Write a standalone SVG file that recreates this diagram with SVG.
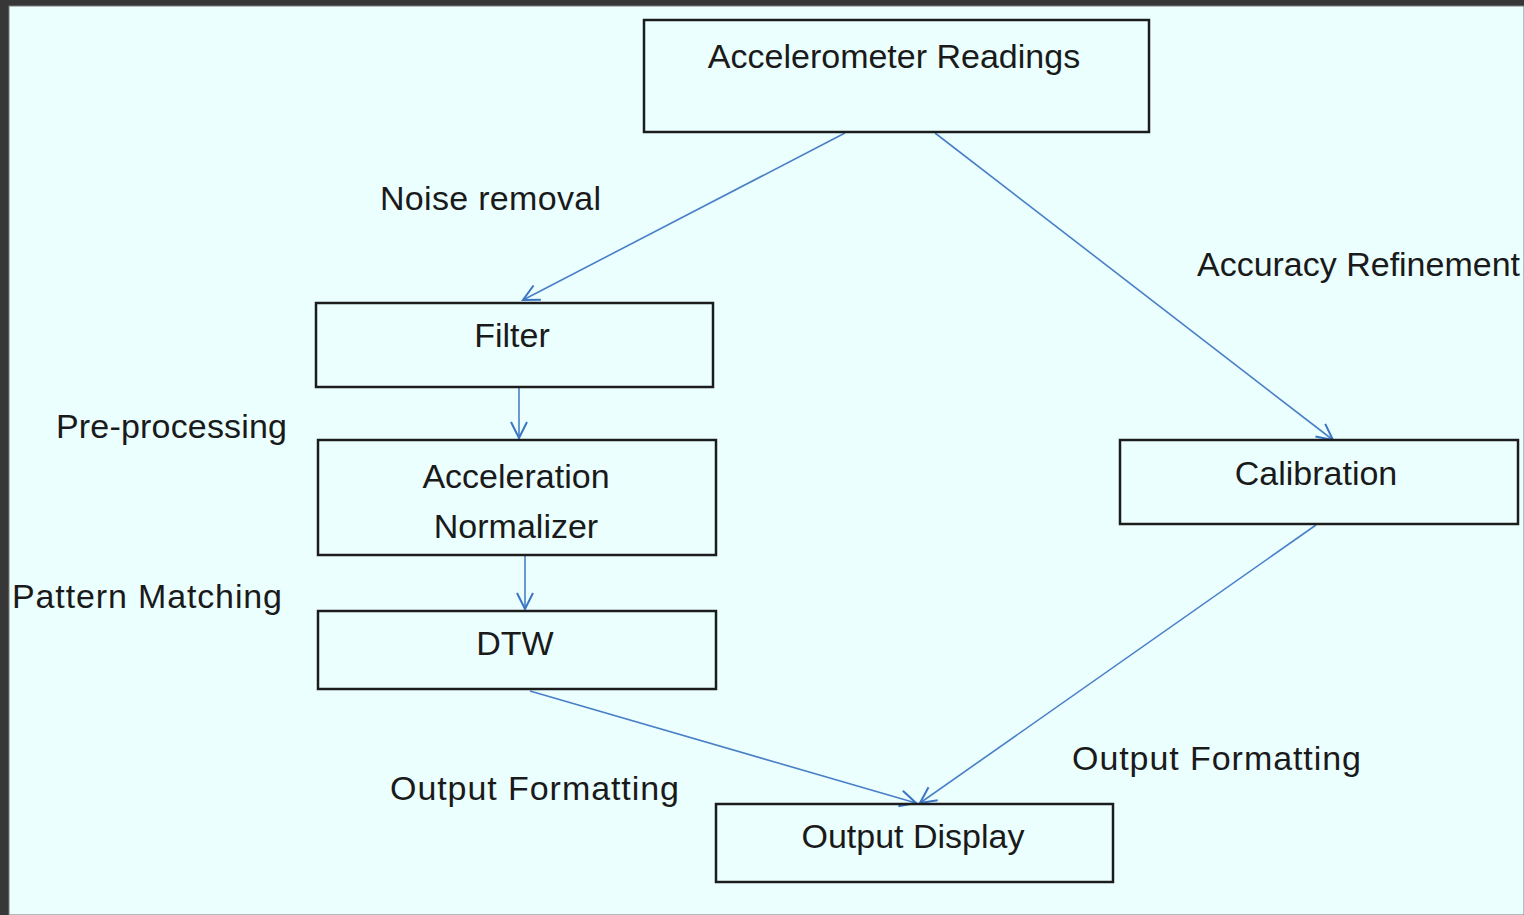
<svg xmlns="http://www.w3.org/2000/svg" width="1524" height="915" viewBox="0 0 1524 915">
<style>
.box{fill:none;stroke:#1c1c1c;stroke-width:2.5}
.t{font-family:"Liberation Sans",Arial,sans-serif;font-size:34px;fill:#1a1a1a}
.m{text-anchor:middle}
.c{fill:none;stroke:#4a7fc8;stroke-width:1.6}
</style>
<defs>
<marker id="ah" viewBox="0 0 20 20" refX="18" refY="10" markerWidth="20" markerHeight="20" markerUnits="userSpaceOnUse" orient="auto">
<path d="M2,2 L18,10 L2,18" fill="none" stroke="#3b75c4" stroke-width="2"/>
</marker>
</defs>
<rect x="0" y="0" width="1524" height="915" fill="#373737"/>
<rect x="9" y="6" width="1515" height="909" fill="#ebffff" stroke="#7a7a7a" stroke-width="1"/>

<g id="connectors">
<line class="c" x1="845" y1="133" x2="523" y2="300" marker-end="url(#ah)"/>
<line class="c" x1="935" y1="133" x2="1333" y2="440" marker-end="url(#ah)"/>
<line class="c" x1="519" y1="388" x2="519" y2="438" marker-end="url(#ah)"/>
<line class="c" x1="525" y1="556" x2="525" y2="609" marker-end="url(#ah)"/>
<line class="c" x1="530" y1="691" x2="916" y2="803" marker-end="url(#ah)"/>
<line class="c" x1="1316" y1="525" x2="920" y2="803" marker-end="url(#ah)"/>
</g>

<g id="accelerometer">
<rect class="box" x="644" y="20" width="505" height="112"/>
<text class="t m" x="894" y="68">Accelerometer Readings</text>
</g>
<g id="filter">
<rect class="box" x="316" y="303" width="397" height="84"/>
<text class="t m" x="512" y="347">Filter</text>
</g>
<g id="normalizer">
<rect class="box" x="318" y="440" width="398" height="115"/>
<text class="t m" x="516" y="488">Acceleration</text>
<text class="t m" x="516" y="538">Normalizer</text>
</g>
<g id="dtw">
<rect class="box" x="318" y="611" width="398" height="78"/>
<text class="t m" x="515" y="655">DTW</text>
</g>
<g id="calibration">
<rect class="box" x="1120" y="440" width="398" height="84"/>
<text class="t m" x="1316" y="485">Calibration</text>
</g>
<g id="output">
<rect class="box" x="716" y="804" width="397" height="78"/>
<text class="t m" x="913" y="848">Output Display</text>
</g>

<g id="labels">
<text class="t" x="380" y="210" textLength="221">Noise removal</text>
<text class="t" x="1197" y="276" textLength="323">Accuracy Refinement</text>
<text class="t" x="56" y="438" textLength="231">Pre-processing</text>
<text class="t" x="12" y="608" textLength="270">Pattern Matching</text>
<text class="t" x="390" y="800" textLength="289">Output Formatting</text>
<text class="t" x="1072" y="770" textLength="289">Output Formatting</text>
</g>
</svg>
